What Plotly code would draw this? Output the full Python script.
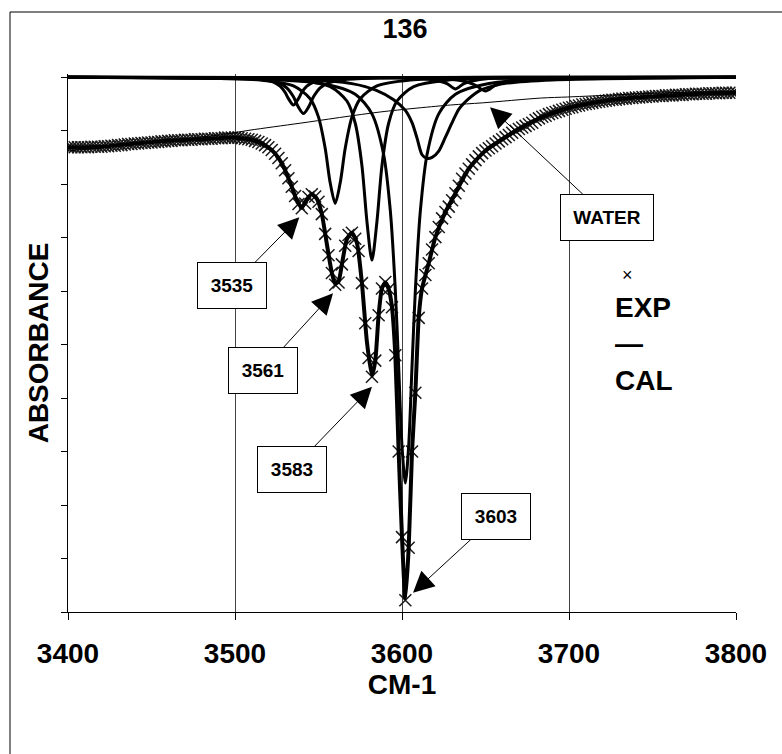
import plotly.graph_objects as go

# ---------------- data ----------------
# y values: absorbance in axis units, 0 at top of plot, increasing downward (10 at bottom)
exp_wn = list(range(3400, 3801, 2))
exp_abs = [
    1.31, 1.31, 1.31, 1.31, 1.31, 1.31, 1.31, 1.30, 1.30, 1.30,   # 3400-3418
    1.30, 1.29, 1.29, 1.28, 1.28, 1.27, 1.27, 1.26, 1.25, 1.25,   # 3420-3438
    1.24, 1.24, 1.23, 1.23, 1.22, 1.22, 1.21, 1.21, 1.20, 1.20,   # 3440-3458
    1.19, 1.19, 1.18, 1.18, 1.18, 1.17, 1.17, 1.17, 1.16, 1.16,   # 3460-3478
    1.16, 1.15, 1.15, 1.15, 1.14, 1.14, 1.14, 1.13, 1.13, 1.13,   # 3480-3498
    1.13, 1.13, 1.14, 1.15, 1.16, 1.17, 1.19, 1.21, 1.24, 1.27,   # 3500-3518
    1.31, 1.36, 1.43, 1.51, 1.61, 1.74, 1.89, 2.05, 2.22, 2.37,   # 3520-3538
    2.45, 2.36, 2.24, 2.19, 2.23, 2.33, 2.56, 2.93, 3.33, 3.66,   # 3540-3558
    3.88, 3.84, 3.50, 3.15, 2.95, 2.91, 3.02, 3.25, 3.85, 4.60,   # 3560-3578
    5.25, 5.60, 5.30, 4.45, 3.95, 3.83, 3.96, 4.30, 5.20, 7.00,   # 3580-3598
    8.60, 9.78, 8.80, 7.00, 5.90, 4.50, 3.95, 3.70, 3.48, 3.22,   # 3600-3618
    2.99, 2.80, 2.64, 2.52, 2.42, 2.30, 2.17, 2.03, 1.90, 1.80,   # 3620-3638
    1.71, 1.63, 1.55, 1.48, 1.42, 1.37, 1.33, 1.29, 1.24, 1.20,   # 3640-3658
    1.16, 1.12, 1.08, 1.04, 1.00, 0.97, 0.94, 0.91, 0.88, 0.85,   # 3660-3678
    0.80, 0.77, 0.74, 0.72, 0.69, 0.67, 0.65, 0.63, 0.61, 0.59,   # 3680-3698
    0.57, 0.56, 0.54, 0.53, 0.51, 0.50, 0.49, 0.48, 0.47, 0.46,   # 3700-3718
    0.45, 0.44, 0.43, 0.42, 0.42, 0.41, 0.40, 0.40, 0.39, 0.39,   # 3720-3738
    0.38, 0.38, 0.37, 0.37, 0.36, 0.36, 0.35, 0.35, 0.35, 0.34,   # 3740-3758
    0.34, 0.34, 0.33, 0.33, 0.33, 0.32, 0.32, 0.32, 0.31, 0.31,   # 3760-3778
    0.31, 0.31, 0.30, 0.30, 0.30, 0.30, 0.29, 0.29, 0.29, 0.29,   # 3780-3798
    0.29,                                                         # 3800
]

cal_wn = [3400, 3420, 3440, 3460, 3480, 3500, 3510, 3516, 3522, 3526, 3530, 3534, 3537,
          3540, 3543, 3546, 3549, 3552, 3555, 3558, 3560, 3562, 3564, 3567, 3570, 3573,
          3576, 3579, 3582, 3584, 3586, 3588, 3590, 3592, 3594, 3596, 3598, 3600, 3602,
          3604, 3606, 3608, 3610, 3612, 3616, 3620, 3626, 3632, 3640, 3650, 3660, 3670,
          3680, 3690, 3700, 3720, 3740, 3760, 3780, 3800]
cal_abs = [1.31, 1.30, 1.24, 1.19, 1.16, 1.13, 1.17, 1.24, 1.36, 1.51, 1.74, 2.05, 2.30,
           2.44, 2.28, 2.19, 2.27, 2.56, 3.12, 3.66, 3.86, 3.82, 3.50, 3.03, 2.91, 3.10,
           3.85, 4.95, 5.58, 5.30, 4.45, 3.95, 3.84, 3.96, 4.30, 5.20, 7.00, 8.60, 9.75,
           8.80, 7.00, 5.90, 4.50, 3.95, 3.48, 2.99, 2.52, 2.17, 1.71, 1.37, 1.16, 0.97,
           0.80, 0.67, 0.57, 0.45, 0.38, 0.34, 0.31, 0.29]

# fitted component bands (CAL)
b3535_wn = [3400, 3505, 3515, 3523, 3527, 3530, 3532, 3535, 3538, 3540, 3543, 3547, 3555, 3565, 3800]
b3535_abs = [0.0, 0.017, 0.037, 0.090, 0.167, 0.284, 0.40, 0.52, 0.40, 0.284, 0.167, 0.090, 0.037, 0.017, 0.0]

b3541_wn = [3400, 3496, 3516, 3526, 3531, 3535, 3538, 3541, 3544, 3547, 3551, 3556, 3566, 3586, 3800]
b3541_abs = [0.0, 0.014, 0.043, 0.107, 0.20, 0.367, 0.56, 0.68, 0.56, 0.367, 0.20, 0.107, 0.043, 0.014, 0.0]

b3561_wn = [3400, 3480, 3515, 3535, 3545, 3550, 3554, 3557, 3560, 3563, 3566, 3570, 3575, 3585, 3605, 3640, 3800]
b3561_abs = [0.0, 0.017, 0.053, 0.163, 0.402, 0.746, 1.327, 1.975, 2.36, 1.975, 1.327, 0.746, 0.402, 0.163, 0.053, 0.017, 0.0]

b3583_wn = [3400, 3502, 3537, 3557, 3567, 3572, 3576, 3579, 3582, 3585, 3588, 3592, 3597, 3607, 3627, 3662, 3800]
b3583_abs = [0.0, 0.018, 0.056, 0.175, 0.445, 0.861, 1.652, 2.698, 3.42, 2.698, 1.652, 0.861, 0.445, 0.175, 0.056, 0.018, 0.0]

b3603_wn = [3400, 3512, 3552, 3572, 3582, 3589, 3593, 3596, 3598, 3600, 3602, 3604, 3606, 3608, 3611, 3615, 3622, 3632, 3652, 3692, 3800]
b3603_abs = [0.0, 0.037, 0.119, 0.320, 0.685, 1.444, 2.496, 3.980, 5.409, 6.895, 7.59, 6.895, 5.409, 3.980, 2.496, 1.444, 0.685, 0.320, 0.119, 0.037, 0.0]

b3615_wn = [3400, 3540, 3570, 3585, 3595, 3602, 3606, 3609, 3612, 3615, 3618, 3622, 3626, 3630, 3634, 3640, 3647, 3655, 3663, 3690, 3800]
b3615_abs = [0.0, 0.04, 0.12, 0.25, 0.42, 0.62, 0.85, 1.14, 1.45, 1.52, 1.50, 1.38, 1.12, 0.85, 0.60, 0.40, 0.24, 0.16, 0.11, 0.05, 0.0]

b3632_wn = [3400, 3590, 3612, 3622, 3627, 3632, 3637, 3642, 3652, 3675, 3800]
b3632_abs = [0.0, 0.006, 0.024, 0.07, 0.12, 0.22, 0.12, 0.07, 0.024, 0.006, 0.0]

b3650_wn = [3400, 3600, 3625, 3638, 3644, 3650, 3656, 3662, 3675, 3700, 3800]
b3650_abs = [0.0, 0.008, 0.03, 0.08, 0.15, 0.26, 0.15, 0.08, 0.03, 0.008, 0.0]

water_wn = [3400, 3450, 3493, 3509, 3539, 3587, 3629, 3648, 3683, 3699, 3714, 3750, 3800]
water_abs = [1.38, 1.22, 1.07, 0.99, 0.86, 0.65, 0.52, 0.48, 0.39, 0.37, 0.35, 0.30, 0.26]

x_ticks = [3400, 3500, 3600, 3700, 3800]
x_ticklabels = ["3400", "3500", "3600", "3700", "3800"]
y_ticks = list(range(0, 11))

# peak labels: (text, arrow tip wn, tip abs, box centre wn, box centre abs)
peak_labels = [
    ("3535", 3538.5, 2.62, 3498.2, 3.90),
    ("3561", 3558.7, 4.04, 3516.5, 5.48),
    ("3583", 3582.0, 5.79, 3534.4, 7.33),
    ("3603", 3606.6, 9.64, 3656.3, 8.21),
    ("WATER", 3652.7, 0.56, 3723.0, 2.62),
]

# ---------------- figure ----------------
FONT = "Liberation Sans, Arial, Helvetica, sans-serif"
W, H = 782, 754
L, R, T, B = 68, 46, 74, 142

fig = go.Figure()

fig.add_trace(go.Scatter(
    x=exp_wn, y=exp_abs, mode="markers", name="EXP",
    marker=dict(symbol="x-thin", size=12, line=dict(width=1.5, color="#1a1a1a"), color="#1a1a1a"),
    showlegend=False, hoverinfo="skip"))

fig.add_trace(go.Scatter(
    x=cal_wn, y=cal_abs, mode="lines", name="CAL",
    line=dict(color="black", width=4, shape="spline", smoothing=0.6),
    showlegend=False))

for wn, ab in [(b3535_wn, b3535_abs), (b3541_wn, b3541_abs), (b3561_wn, b3561_abs),
               (b3583_wn, b3583_abs), (b3603_wn, b3603_abs), (b3615_wn, b3615_abs),
               (b3632_wn, b3632_abs), (b3650_wn, b3650_abs)]:
    fig.add_trace(go.Scatter(x=wn, y=ab, mode="lines",
                             line=dict(color="black", width=3, shape="spline", smoothing=0.8),
                             showlegend=False))

fig.add_trace(go.Scatter(x=water_wn, y=water_abs, mode="lines",
                         line=dict(color="black", width=1, shape="spline", smoothing=0.8),
                         showlegend=False))

annotations = []
for text, tx, ty, bx, by in peak_labels:
    annotations.append(dict(
        x=tx, y=ty, xref="x", yref="y", ax=bx, ay=by, axref="x", ayref="y",
        text="<b>%s</b>" % text, showarrow=True, arrowhead=2, arrowsize=4.2,
        arrowwidth=1, arrowcolor="black", standoff=0,
        font=dict(family=FONT, size=19, color="black"),
        bgcolor="white", bordercolor="black", borderwidth=1, borderpad=11,
        width=(70 if text == "WATER" else 46), height=23))


def px2paper(px, py):
    return (px - L) / (W - L - R), (H - B - py) / (H - T - B)


# legend key: a small x above "EXP", a dash above "CAL"
mx, my = px2paper(627, 275)
annotations.append(dict(x=mx, y=my, xref="paper", yref="paper", showarrow=False,
                        text="×", font=dict(family=FONT, size=18, color="black"),
                        xanchor="center", yanchor="middle"))
lx, ly = px2paper(613, 344)
annotations.append(dict(x=lx, y=ly, xref="paper", yref="paper", showarrow=False,
                        text="<b>EXP</b><br><b>—</b><br><b>CAL</b>", align="left",
                        font=dict(family=FONT, size=28, color="black"),
                        xanchor="left", yanchor="middle"))

bx0, by0 = px2paper(10, 12)
bx1, by1 = px2paper(800, 770)

fig.update_layout(
    width=W, height=H, margin=dict(l=L, r=R, t=T, b=B, autoexpand=False),
    paper_bgcolor="white", plot_bgcolor="white",
    title=dict(text="<b>136</b>", x=405 / W, xanchor="center", y=1 - 29 / H, yanchor="middle",
               font=dict(family=FONT, size=27, color="black")),
    xaxis=dict(range=[3400, 3800], tickvals=x_ticks,
               ticktext=["<b>%s</b>" % t for t in x_ticklabels],
               showgrid=True, gridcolor="#444444", gridwidth=1,
               showline=True, linecolor="black", linewidth=1,
               ticks="outside", ticklen=7, tickcolor="black", tickwidth=1,
               ticklabelstandoff=9, zeroline=False,
               tickfont=dict(family=FONT, size=28, color="black"),
               title=dict(text="<b>CM-1</b>", standoff=6,
                          font=dict(family=FONT, size=28, color="black"))),
    yaxis=dict(range=[10, -0.06], tickvals=y_ticks, showticklabels=False,
               showgrid=False, zeroline=False,
               showline=True, linecolor="black", linewidth=1,
               ticks="outside", ticklen=6, tickcolor="black", tickwidth=1,
               title=dict(text="<b>ABSORBANCE</b>", standoff=4,
                          font=dict(family=FONT, size=28, color="black"))),
    annotations=annotations,
    shapes=[dict(type="rect", xref="paper", yref="paper", x0=bx0, y0=by1, x1=bx1, y1=by0,
                 line=dict(color="black", width=1), fillcolor="rgba(0,0,0,0)", layer="below")],
    showlegend=False,
)

fig.write_html("out.html", config={"displayModeBar": False},
               post_script="document.body.style.margin='0';")
